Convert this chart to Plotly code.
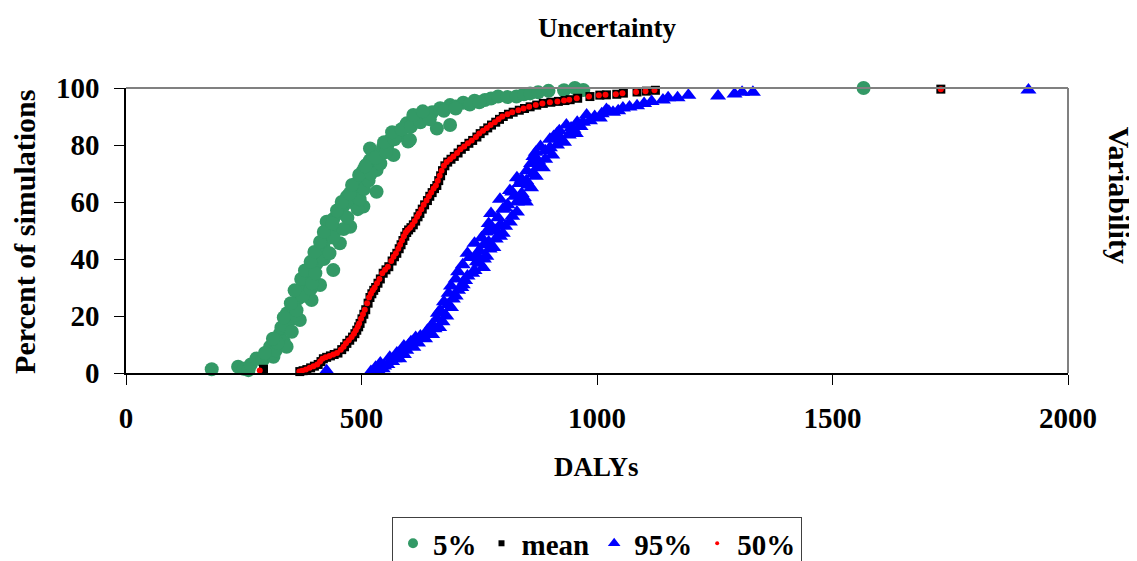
import plotly.graph_objects as go

# ---- data: 5% series (x = DALYs, y = percent of simulations) ----
p5_x = [182, 238, 250, 260, 265, 277, 290, 300, 313, 306, 318, 327, 335, 341, 330, 348, 342, 355,
        369, 360, 365, 369, 378, 394, 384, 390, 412, 398, 405, 410, 440, 415, 419, 425, 454, 430,
        433, 445, 476, 426, 440, 450, 461, 504, 469, 478, 532, 485, 490, 498, 504, 532, 510, 518,
        525, 518, 546, 568, 540, 561, 555, 575, 582, 599, 590, 596, 603, 610, 620, 638, 660, 688,
        650, 667, 688, 700, 716, 740, 762, 775, 790, 810, 829, 845, 858, 875, 897, 930, 953, 971, 1566,
        295, 322, 312, 338, 352, 335, 362, 350, 375, 358, 392, 372, 395, 380, 402, 392, 420, 400,
        432, 412, 440, 420, 462, 438, 470, 448, 492, 458, 496, 475, 505, 480, 515, 495, 520, 508,
        540, 530, 552, 548, 570, 565, 585, 605, 625, 645, 610, 630, 675, 700, 730, 750]
p5_y = [1.3, 2.2, 1.5, 1.0, 3.0, 5.1, 4.5, 6.0, 5.7, 9.2, 8.0, 13.9, 11.0, 9.2, 16.0, 18.6, 21.0, 23.3,
        18.6, 20.5, 26.0, 28.0, 30.0, 25.6, 32.6, 34.0, 30.9, 37.0, 38.5, 41.0, 36.1, 43.0, 44.3, 47.0, 45.5, 49.0,
        51.3, 50.0, 51.3, 53.1, 54.0, 56.0, 58.4, 58.4, 61.9, 60.0, 63.6, 64.0, 66.5, 68.0, 71.2, 71.2, 73.0, 74.7,
        76.0, 78.8, 79.4, 76.5, 77.0, 81.8, 80.0, 83.0, 84.1, 81.2, 86.0, 87.6, 81.8, 88.8, 89.5, 90.0, 85.8, 87.0,
        91.5, 92.9, 94.0, 93.5, 94.8, 95.5, 95.8, 96.3, 97.0, 96.8, 97.0, 97.8, 98.1, 98.5, 99.0, 99.2, 100.0, 99.3, 100.0,
        7.0, 10.5, 12.0, 16.5, 14.5, 19.5, 22.0, 24.5, 27.0, 29.0, 29.5, 33.0, 31.5, 36.0, 35.0, 39.0, 40.0, 42.5,
        42.0, 46.0, 47.5, 49.5, 50.5, 52.5, 54.5, 57.0, 57.5, 60.0, 61.0, 63.0, 64.5, 66.0, 67.5, 69.5, 70.0, 72.5,
        73.5, 75.5, 77.5, 81.0, 82.0, 84.5, 85.5, 86.5, 88.0, 89.0, 90.5, 91.8, 92.0, 92.8, 94.2, 95.0]

# ---- mean series ----
mean_x = [292, 369, 376, 384, 392, 400, 408, 414, 419, 426, 434, 442, 450, 458, 464, 469, 475, 481,
          486, 490, 494, 497, 501, 505, 509, 514, 518, 522, 526, 530, 535, 540, 546, 552, 558, 565,
          570, 575, 580, 584, 588, 592, 596, 600, 605, 610, 615, 620, 624, 629, 634, 640, 645, 650,
          655, 660, 664, 668, 672, 677, 683, 690, 697, 705, 712, 720, 728, 736, 745, 752, 760, 768,
          776, 785, 793, 801, 812, 822, 835, 846, 858, 872, 886, 902, 918, 932, 943, 959, 985, 1006,
          1020, 1042, 1056, 1085, 1105, 1124, 1730]
mean_y = [1.3, 0.5, 0.8, 1.2, 1.8, 2.4, 3.0, 4.0, 5.0, 5.5, 6.0, 6.5, 7.0, 8.2, 9.2, 10.4, 11.5, 12.6,
          13.8, 15.0, 16.2, 17.4, 19.0, 20.6, 22.2, 24.5, 26.5, 27.8, 29.0, 30.0, 31.5, 33.0, 35.0, 36.2, 37.3, 39.3,
          40.8, 42.0, 43.6, 45.0, 46.5, 48.0, 49.3, 50.2, 51.0, 52.0, 53.3, 54.8, 56.0, 57.5, 59.0, 60.5, 62.0, 63.3,
          64.7, 65.8, 67.5, 69.2, 71.0, 72.7, 74.0, 75.0, 76.0, 77.2, 78.5, 79.5, 80.6, 81.6, 82.8, 84.0, 85.0, 86.0,
          87.0, 88.0, 89.0, 90.0, 90.8, 91.5, 92.2, 92.8, 93.4, 94.0, 94.6, 95.0, 95.3, 95.6, 95.9, 96.4, 97.0, 97.5,
          97.6, 97.8, 98.2, 98.6, 98.9, 99.2, 99.6]

# ---- 95% series ----
p95_x = [426, 520, 535, 545, 530, 555, 540, 565, 580, 560, 590, 575, 595, 610, 590, 620, 605, 635,
         625, 650, 640, 665, 650, 660, 680, 667, 690, 675, 694, 685, 705, 690, 715, 700, 725, 705,
         740, 758, 715, 745, 730, 765, 725, 750, 780, 740, 770, 755, 794, 765, 785, 805, 770, 815,
         790, 775, 830, 800, 810, 849, 794, 825, 840, 815, 860, 835, 850, 830, 870, 851, 885, 860,
         875, 865, 905, 890, 880, 915, 930, 900, 908, 940, 955, 920, 945, 965, 958, 985, 1006, 978,
         1010, 1034, 1045, 1020, 1069, 1085, 1100, 1116, 1140, 1151, 1171, 1194, 1257, 1292, 1308, 1331, 1916,
         548, 570, 585, 600, 615, 640, 655, 672, 662, 684, 700, 712, 720, 735, 750, 760, 745, 772,
         760, 785, 800, 778, 795, 820, 805, 830, 845, 820, 855, 840, 865, 875, 890, 870, 900, 925,
         915, 950, 935, 970, 995, 1025, 1055]
p95_y = [0.8, 0.5, 1.0, 1.5, 2.0, 3.0, 3.5, 4.0, 5.0, 5.5, 6.5, 7.0, 8.0, 9.0, 9.5, 10.5, 11.0, 12.0,
         13.0, 13.5, 15.0, 16.0, 17.0, 19.0, 20.0, 22.0, 23.0, 25.0, 26.0, 28.0, 29.0, 30.5, 31.0, 33.0, 34.0, 35.5,
         36.0, 37.0, 38.0, 39.0, 40.5, 41.0, 42.0, 43.0, 44.0, 45.5, 46.0, 47.5, 48.0, 49.5, 50.0, 51.5, 52.5, 53.0,
         54.5, 56.0, 56.5, 57.5, 59.0, 60.0, 61.0, 62.0, 63.0, 64.0, 65.0, 66.5, 67.5, 68.5, 69.0, 71.0, 72.0, 73.5,
         74.5, 76.0, 76.5, 78.0, 79.5, 80.0, 81.0, 82.0, 83.0, 83.5, 84.0, 85.0, 86.0, 86.5, 88.0, 88.5, 89.5, 90.5,
         91.0, 91.5, 92.0, 92.5, 93.3, 93.8, 94.6, 95.3, 95.8, 96.6, 96.6, 97.5, 97.2, 97.9, 98.5, 98.5, 99.3,
         2.5, 5.0, 7.5, 9.8, 12.5, 14.0, 15.5, 18.0, 21.0, 24.0, 27.0, 30.0, 32.5, 35.0, 38.5, 40.0, 41.5, 43.5,
         45.0, 47.0, 49.0, 51.0, 52.0, 55.0, 58.0, 60.0, 61.5, 63.5, 66.0, 68.0, 70.0, 72.5, 75.0, 77.5, 79.0, 81.5,
         84.0, 85.5, 87.0, 88.0, 90.0, 91.8, 93.0]

# ---- 50% series ----
p50_x = [284, 368, 374, 382, 390, 398, 406, 412, 417, 424, 432, 440, 448, 456, 462, 467, 473, 479,
         484, 488, 492, 495, 499, 503, 507, 512, 516, 520, 524, 528, 533, 538, 544, 550, 556, 563,
         568, 573, 578, 582, 586, 590, 594, 598, 603, 608, 613, 618, 622, 627, 632, 638, 643, 648,
         653, 658, 662, 666, 670, 675, 681, 688, 695, 703, 710, 718, 726, 734, 743, 750, 758, 766,
         774, 783, 791, 799, 810, 820, 833, 844, 856, 870, 884, 900, 916, 930, 941, 957, 983, 1004,
         1018, 1040, 1054, 1083, 1103, 1122, 1730]
p50_y = [0.9, 0.5, 0.8, 1.2, 1.8, 2.4, 3.0, 4.0, 5.0, 5.5, 6.0, 6.5, 7.0, 8.2, 9.2, 10.4, 11.5, 12.6,
         13.8, 15.0, 16.2, 17.4, 19.0, 20.6, 22.2, 24.5, 26.5, 27.8, 29.0, 30.0, 31.5, 33.0, 35.0, 36.2, 37.3, 39.3,
         40.8, 42.0, 43.6, 45.0, 46.5, 48.0, 49.3, 50.2, 51.0, 52.0, 53.3, 54.8, 56.0, 57.5, 59.0, 60.5, 62.0, 63.3,
         64.7, 65.8, 67.5, 69.2, 71.0, 72.7, 74.0, 75.0, 76.0, 77.2, 78.5, 79.5, 80.6, 81.6, 82.8, 84.0, 85.0, 86.0,
         87.0, 88.0, 89.0, 90.0, 90.8, 91.5, 92.2, 92.8, 93.4, 94.0, 94.6, 95.0, 95.3, 95.6, 95.9, 96.4, 97.0, 97.5,
         97.6, 97.8, 98.2, 98.6, 98.9, 99.2, 99.6]

x_ticks = [0, 500, 1000, 1500, 2000]
y_ticks = [0, 20, 40, 60, 80, 100]

GREEN = "#339966"
BLUE = "#0000FF"
RED = "#FF0000"
BLACK = "#000000"
FONT = "Liberation Serif"

fig = go.Figure()

def add(x, y, color, symbol, size, name, legsize):
    fig.add_trace(go.Scatter(x=x, y=y, mode="markers", name=name, showlegend=False,
                             cliponaxis=False,
                             marker=dict(color=color, symbol=symbol, size=size, line=dict(width=0))))
    fig.add_trace(go.Scatter(x=[None], y=[None], mode="markers", name=name, showlegend=True,
                             marker=dict(color=color, symbol=symbol, size=legsize, line=dict(width=0))))

add(p5_x, p5_y, GREEN, "circle", 14, "5%", 10)
add(mean_x, mean_y, BLACK, "square", 9, "mean", 6)
add(p95_x, p95_y, BLUE, "triangle-up", 14, "95%", 11)
add(p50_x, p50_y, RED, "circle", 6, "50%", 4)

# the page body has an 8px margin: the figure is sized/margined to compensate
fig.update_layout(
    width=1129, height=553,
    margin=dict(l=118, r=69, t=80, b=188, autoexpand=False),
    paper_bgcolor="white", plot_bgcolor="white",
    font=dict(family=FONT, color="black"),
    showlegend=True,
    legend=dict(orientation="h", x=0.5, xanchor="center", y=-0.505, yanchor="top",
                font=dict(family=FONT, size=29, color="black", weight="bold"),
                bordercolor="#404040", borderwidth=1, bgcolor="white",
                itemwidth=30, tracegroupgap=0),
    xaxis=dict(range=[0, 2000], tickvals=x_ticks, ticktext=[str(v) for v in x_ticks],
               ticks="outside", ticklen=10, tickwidth=1, tickcolor="black",
               showline=True, linecolor="black", linewidth=1.5, showgrid=False, zeroline=False,
               tickfont=dict(family=FONT, size=29, color="black", weight="bold"),
               ticklabelstandoff=8),
    yaxis=dict(range=[0, 100], tickvals=y_ticks, ticktext=[str(v) for v in y_ticks],
               ticks="outside", ticklen=10, tickwidth=1, tickcolor="black",
               showline=True, linecolor="black", linewidth=1.5, showgrid=False, zeroline=False,
               tickfont=dict(family=FONT, size=29, color="black", weight="bold"),
               ticklabelstandoff=9),
    shapes=[
        dict(type="line", xref="paper", yref="paper", x0=0, x1=1, y0=1, y1=1,
             line=dict(color="#808080", width=2)),
        dict(type="line", xref="paper", yref="paper", x0=1, x1=1, y0=0, y1=1,
             line=dict(color="#808080", width=2)),
    ],
    annotations=[
        dict(text="<b>Uncertainty</b>", xref="paper", yref="paper", x=0.5106, y=1.2105,
             xanchor="center", yanchor="middle", showarrow=False,
             font=dict(family=FONT, size=27, color="black")),
        dict(text="<b>DALYs</b>", xref="paper", yref="paper", x=0.499, y=-0.33,
             xanchor="center", yanchor="middle", showarrow=False,
             font=dict(family=FONT, size=27, color="black")),
        dict(text="<b>Percent of simulations</b>", xref="paper", yref="paper", x=-0.1072, y=0.495,
             xanchor="center", yanchor="middle", showarrow=False, textangle=-90,
             font=dict(family=FONT, size=30, color="black")),
        dict(text="<b>Variability</b>", xref="paper", yref="paper", x=1.0545, y=0.6246,
             xanchor="center", yanchor="middle", showarrow=False, textangle=90,
             font=dict(family=FONT, size=30, color="black")),
    ],
)

fig.write_html("out.html")
